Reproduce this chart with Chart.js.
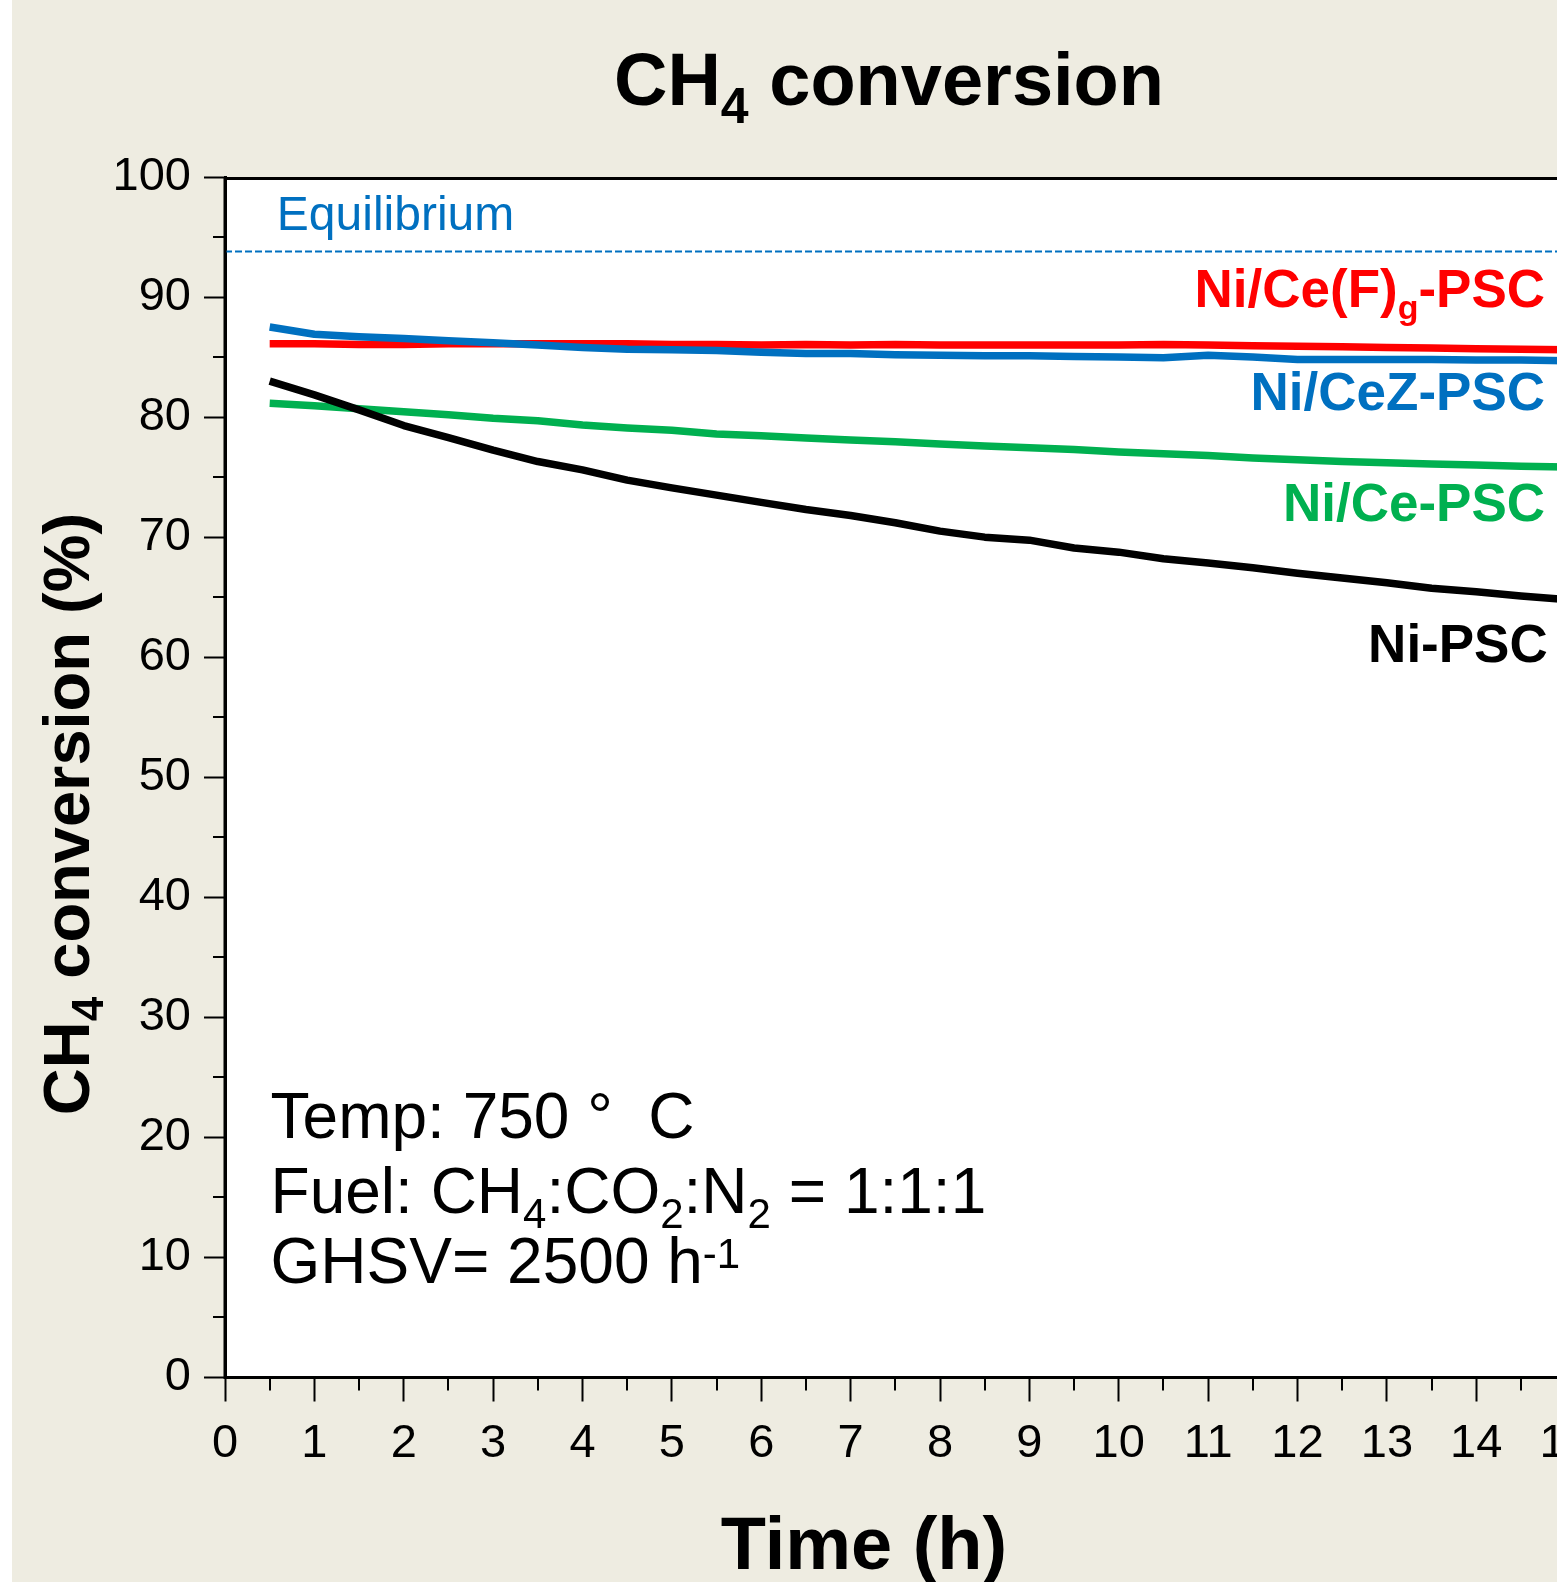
<!DOCTYPE html>
<html><head><meta charset="utf-8">
<script src="https://cdn.jsdelivr.net/npm/chart.js@4.4.1/dist/chart.umd.min.js"></script>
<style>
html,body{margin:0;padding:0;background:#fff;overflow:hidden;width:1557px;height:1582px}
#wrap{position:absolute;left:0;top:0;width:1557px;height:1582px;overflow:hidden}
canvas{position:absolute;left:0;top:0}
</style></head><body>
<div id="wrap"><canvas id="c" width="1700" height="1582" style="width:1700px;height:1582px"></canvas></div>
<script>
// ---- data ----
const timeHours = [0.5,1,1.5,2,2.5,3,3.5,4,4.5,5,5.5,6,6.5,7,7.5,8,8.5,9,9.5,10,10.5,11,11.5,12,12.5,13,13.5,14,14.5,15,15.5];
const niPSC      = [83.0,81.85,80.6,79.3,78.3,77.25,76.3,75.6,74.75,74.1,73.5,72.9,72.3,71.8,71.2,70.5,70.0,69.75,69.1,68.75,68.2,67.85,67.45,67.0,66.6,66.2,65.75,65.45,65.1,64.8,64.5];
const niCePSC    = [81.15,80.95,80.7,80.45,80.2,79.9,79.7,79.35,79.1,78.9,78.6,78.45,78.25,78.1,77.95,77.75,77.6,77.45,77.3,77.1,76.95,76.8,76.6,76.45,76.3,76.2,76.1,76.0,75.9,75.85,75.8];
const niCeZPSC   = [87.5,86.9,86.7,86.55,86.35,86.2,86.0,85.8,85.65,85.6,85.55,85.4,85.3,85.3,85.2,85.15,85.1,85.1,85.05,85.0,84.95,85.15,85.0,84.8,84.8,84.8,84.8,84.75,84.75,84.7,84.7];
const niCeFgPSC  = [86.1,86.1,86.05,86.05,86.1,86.1,86.1,86.1,86.1,86.05,86.05,86.0,86.05,86.0,86.05,86.0,86.0,86.0,86.0,86.0,86.05,86.0,85.95,85.9,85.85,85.8,85.75,85.7,85.65,85.6,85.6];
const equilibriumValue = 93.8;
const equilibriumSpan = [0, 16];
const xRange = [0, 16];
const yRange = [0, 100];
const xMajorStep = 1, xMinorStep = 0.5;
const yMajorStep = 10, yMinorStep = 5;

const FONT = '"Liberation Sans", Arial, Helvetica, sans-serif';
const pts = arr => timeHours.map((t, i) => ({x: t, y: arr[i]}));

function segFont(s){ return (s[2] ? 'bold ' : '') + s[1] + 'px ' + FONT; }
function drawRich(ctx, segs, x, y, align, color){
  let w = 0;
  segs.forEach(s => { ctx.font = segFont(s); w += ctx.measureText(s[0]).width; });
  let cx = align === 'center' ? x - w / 2 : (align === 'right' ? x - w : x);
  ctx.textAlign = 'left'; ctx.textBaseline = 'alphabetic'; ctx.fillStyle = color || '#000';
  segs.forEach(s => { ctx.font = segFont(s); ctx.fillText(s[0], cx, y + (s[3] || 0)); cx += ctx.measureText(s[0]).width; });
}

const decor = {
  id: 'decor',
  beforeDraw(chart){
    const {ctx, chartArea: a} = chart;
    ctx.save();
    ctx.fillStyle = '#EEECE1'; ctx.fillRect(12, 0, chart.width - 12, chart.height);
    ctx.fillStyle = '#FFFFFF'; ctx.fillRect(a.left, a.top, a.right - a.left, a.bottom - a.top);
    ctx.restore();
  },
  afterDraw(chart){
    const {ctx, chartArea: a} = chart;
    const xs = chart.scales.x, ys = chart.scales.y;
    ctx.save();
    // minor ticks
    ctx.strokeStyle = '#000'; ctx.lineWidth = 2;
    for (let v = xRange[0] + xMinorStep; v < xRange[1]; v += xMajorStep){
      const px = Math.round(xs.getPixelForValue(v));
      ctx.beginPath(); ctx.moveTo(px, a.bottom); ctx.lineTo(px, a.bottom + 13); ctx.stroke();
    }
    for (let v = yRange[0] + yMinorStep; v < yRange[1]; v += yMajorStep){
      const py = Math.round(ys.getPixelForValue(v));
      ctx.beginPath(); ctx.moveTo(a.left, py); ctx.lineTo(a.left - 12, py); ctx.stroke();
    }
    // frame
    ctx.lineWidth = 3; ctx.strokeStyle = '#000';
    ctx.strokeRect(a.left, a.top + 1.5, a.right - a.left, a.bottom - a.top - 1.5);

    // chart title
    drawRich(ctx, [['CH',74,true],['4',50,true,18],[' conversion',74,true]], 889, 105, 'center');
    // x axis title
    drawRich(ctx, [['Time (h)',74,true]], 864, 1569, 'center');
    // y axis title (rotated)
    ctx.save();
    ctx.translate(89, 814); ctx.rotate(-Math.PI / 2);
    drawRich(ctx, [['CH',65,true],['4',44,true,14],[' conversion (%)',65,true]], 0, 0, 'center');
    ctx.restore();

    // equilibrium label
    drawRich(ctx, [['Equilibrium',48,false]], xs.getPixelForValue(0.58), ys.getPixelForValue(95.6), 'left', '#0070C0');

    // series labels
    const lx = xs.getPixelForValue(14.77);
    drawRich(ctx, [['Ni/Ce(F)',53,true],['g',34,true,12],['-PSC',53,true]], lx, ys.getPixelForValue(89.2), 'right', '#FF0000');
    drawRich(ctx, [['Ni/CeZ-PSC',53,true]], lx, ys.getPixelForValue(80.6), 'right', '#0070C0');
    drawRich(ctx, [['Ni/Ce-PSC',53,true]], lx, ys.getPixelForValue(71.35), 'right', '#00B050');
    drawRich(ctx, [['Ni-PSC',53,true]], xs.getPixelForValue(14.8), ys.getPixelForValue(59.6), 'right', '#000000');

    // conditions text
    const ix = xs.getPixelForValue(0.51);
    drawRich(ctx, [['Temp: 750 °  C',64,false]], ix, ys.getPixelForValue(19.95), 'left');
    drawRich(ctx, [['Fuel: CH',64,false],['4',42,false,15],[':CO',64,false],['2',42,false,15],[':N',64,false],['2',42,false,15],[' = 1:1:1',64,false]], ix, ys.getPixelForValue(13.7), 'left');
    drawRich(ctx, [['GHSV= 2500 h',64,false],['-1',42,false,-15]], ix, ys.getPixelForValue(7.87), 'left');
    ctx.restore();
  }
};

const lineDs = (label, data, color) => ({
  label, data: pts(data), borderColor: color, backgroundColor: color,
  borderWidth: 7.5, pointRadius: 0, tension: 0, borderJoinStyle: 'round', fill: false
});

new Chart(document.getElementById('c'), {
  type: 'line',
  data: {
    datasets: [
      lineDs('Ni-PSC', niPSC, '#000000'),
      lineDs('Ni/Ce-PSC', niCePSC, '#00B050'),
      lineDs('Ni/CeZ-PSC', niCeZPSC, '#0070C0'),
      lineDs('Ni/Ce(F)g-PSC', niCeFgPSC, '#FF0000'),
      { label: 'Equilibrium', data: equilibriumSpan.map(t => ({x: t, y: equilibriumValue})),
        borderColor: '#0070C0', borderWidth: 2, borderDash: [7, 3], pointRadius: 0, fill: false }
    ]
  },
  options: {
    responsive: false, animation: false, devicePixelRatio: 1,
    layout: { padding: { top: 177, right: 45, left: 0, bottom: 0 } },
    plugins: { legend: { display: false }, tooltip: { enabled: false }, title: { display: false } },
    scales: {
      x: {
        type: 'linear', min: xRange[0], max: xRange[1],
        ticks: { stepSize: xMajorStep, font: { size: 47, family: FONT }, color: '#000', padding: 14, maxRotation: 0, autoSkip: false },
        grid: { drawOnChartArea: false, drawTicks: true, tickLength: 24, tickWidth: 2, tickColor: '#000' },
        border: { display: true, color: '#000', width: 3 },
        afterFit(s){ s.height = 204.5; }
      },
      y: {
        type: 'linear', min: yRange[0], max: yRange[1],
        ticks: { stepSize: yMajorStep, font: { size: 47, family: FONT }, color: '#000', padding: 13 },
        grid: { drawOnChartArea: false, drawTicks: true, tickLength: 21, tickWidth: 2, tickColor: '#000' },
        border: { display: true, color: '#000', width: 3 },
        afterFit(s){ s.width = 225; }
      }
    }
  },
  plugins: [decor]
});
</script>
</body></html>
